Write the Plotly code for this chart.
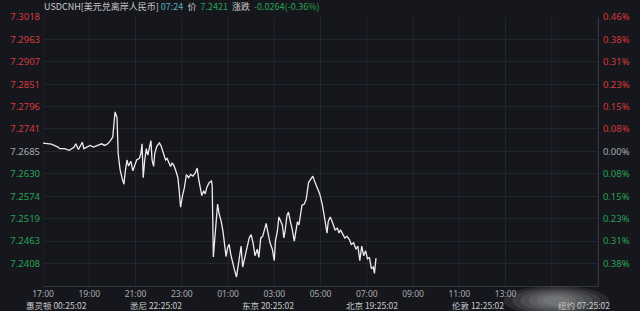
import plotly.graph_objects as go
from datetime import datetime, timedelta

# ---- data ----
times = ["17:00","17:22","17:39","17:43","17:56","18:08","18:21","18:25","18:32","18:42",
         "18:46","18:54","19:02","19:11","19:23","19:32","19:40","19:48","19:55","20:01",
         "20:07","20:12","20:15","20:20","20:26","20:30","20:34","20:38","20:42","20:48",
         "20:53","20:59","21:03","21:10","21:14","21:17","21:20","21:24","21:28","21:32",
         "21:37","21:40","21:43","21:47","21:50","21:55","22:02","22:06","22:10","22:14",
         "22:18","22:22","22:27","22:31","22:35","22:39","22:45","22:50","22:53","22:57",
         "23:02","23:07","23:12","23:18","23:23","23:29","23:35","23:40","23:44","23:48",
         "23:52","23:57","00:01","00:05","00:11","00:17","00:19","00:22","00:25","00:29",
         "00:33","00:37","00:42","00:47","00:51","00:55","00:59","01:03","01:07","01:12",
         "01:16","01:22","01:26","01:30","01:34","01:38","01:44","01:48","01:55","02:00",
         "02:05","02:10","02:16","02:20","02:25","02:30","02:35","02:39","02:43","02:49",
         "02:55","03:00","03:03","03:08","03:12","03:17","03:21","03:25","03:28","03:33",
         "03:37","03:42","03:46","03:52","03:56","04:00","04:04","04:08","04:12","04:18",
         "04:23","04:29","04:35","04:40","04:46","04:52","04:58","05:05","05:09","05:13",
         "05:17","05:20","05:25","05:29","05:33","05:38","05:44","05:48","05:52","05:58",
         "06:03","06:09","06:15","06:20","06:26","06:32","06:37","06:42","06:47","06:52",
         "06:57","07:02","07:07","07:12","07:17","07:20","07:24"]
prices = [7.2706,7.2703,7.2696,7.2692,7.2692,7.2688,7.2696,7.2704,7.2690,7.2708,
          7.2692,7.2696,7.2700,7.2696,7.2700,7.2704,7.2700,7.2704,7.2712,7.2721,
          7.2783,7.2769,7.2680,7.2640,7.2616,7.2604,7.2640,7.2664,7.2649,7.2661,
          7.2637,7.2656,7.2664,7.2668,7.2680,7.2704,7.2620,7.2664,7.2692,7.2676,
          7.2696,7.2712,7.2664,7.2648,7.2680,7.2697,7.2706,7.2700,7.2688,7.2676,
          7.2664,7.2668,7.2656,7.2648,7.2656,7.2652,7.2636,7.2620,7.2592,7.2547,
          7.2576,7.2596,7.2628,7.2620,7.2628,7.2624,7.2632,7.2644,7.2616,7.2592,
          7.2576,7.2588,7.2580,7.2596,7.2608,7.2612,7.2600,7.2424,7.2463,7.2523,
          7.2555,7.2530,7.2514,7.2487,7.2457,7.2425,7.2447,7.2455,7.2431,7.2407,
          7.2395,7.2374,7.2399,7.2431,7.2451,7.2399,7.2423,7.2447,7.2471,7.2479,
          7.2459,7.2427,7.2443,7.2423,7.2471,7.2475,7.2495,7.2507,7.2487,7.2459,
          7.2443,7.2415,7.2463,7.2487,7.2523,7.2511,7.2503,7.2471,7.2487,7.2527,
          7.2535,7.2511,7.2495,7.2463,7.2487,7.2511,7.2503,7.2535,7.2552,7.2555,
          7.2567,7.2608,7.2616,7.2624,7.2608,7.2596,7.2580,7.2552,7.2527,7.2503,
          7.2483,7.2511,7.2523,7.2515,7.2503,7.2491,7.2495,7.2483,7.2491,7.2479,
          7.2471,7.2475,7.2467,7.2455,7.2459,7.2443,7.2451,7.2415,7.2451,7.2427,
          7.2439,7.2419,7.2423,7.2395,7.2399,7.2383,7.2421]

base_price = 7.2685
price_ticks = [7.3018,7.2963,7.2907,7.2851,7.2796,7.2741,7.2685,7.2630,7.2574,7.2519,7.2463,7.2408]
price_labels = ["7.3018","7.2963","7.2907","7.2851","7.2796","7.2741","7.2685","7.2630","7.2574","7.2519","7.2463","7.2408"]
pct_labels = ["0.46%","0.38%","0.31%","0.23%","0.15%","0.08%","0.00%","0.08%","0.15%","0.23%","0.31%","0.38%"]
y_min, y_max = 7.2352, 7.3018

hour_ticks = ["17:00","19:00","21:00","23:00","01:00","03:00","05:00","07:00","09:00","11:00","13:00"]
city_labels = ["惠灵顿 00:25:02","悉尼 22:25:02","东京 20:25:02","北京 19:25:02","伦敦 12:25:02","纽约 07:25:02"]
city_pos = [0.024, 0.203, 0.405, 0.592, 0.783, 0.974]

header_name = "USDCNH[美元兑离岸人民币]"
header_time = "07:24"
header_price = "7.2421"
header_change = "-0.0264(-0.36%)"

# ---- helpers ----
day0 = datetime(2023, 8, 1)
def to_dt(hm):
    h, m = map(int, hm.split(":"))
    d = day0 if h >= 17 else day0 + timedelta(days=1)
    return d.replace(hour=h, minute=m)

xs = [to_dt(t) for t in times]
x_start = day0.replace(hour=17)
x_end = x_start + timedelta(hours=24)
grid_x = [x_start + timedelta(hours=2 * i) for i in range(13)]

RED = "#d8393f"
GREEN = "#27a356"
GREY = "#a9abb0"
BG = "#16171c"
GRID = "#24262d"

def col(v):
    if abs(v - base_price) < 1e-4:
        return GREY
    return RED if v > base_price else GREEN

left_text = [f"<span style='color:{col(v)}'>{t}</span>" for v, t in zip(price_ticks, price_labels)]
right_text = [f"<span style='color:{col(v)}'>{t}</span>" for v, t in zip(price_ticks, pct_labels)]

fig = go.Figure()
fig.add_trace(go.Scatter(x=xs, y=prices, mode="lines",
                         line=dict(color="#ececec", width=1.3), hoverinfo="skip",
                         showlegend=False))
# invisible trace for right axis
fig.add_trace(go.Scatter(x=[xs[0]], y=[prices[0]], yaxis="y2", mode="markers",
                         marker=dict(opacity=0), showlegend=False, hoverinfo="skip"))

font_tick = dict(family="Noto Sans, DejaVu Sans, sans-serif", size=9.5, color=GREY)
font_xtick = dict(family="Noto Sans, DejaVu Sans, sans-serif", size=8.5, color=GREY)

fig.update_layout(
    width=640, height=311,
    margin=dict(l=36, r=28, t=10, b=25),
    paper_bgcolor=BG, plot_bgcolor=BG,
    xaxis=dict(range=[x_start, x_end], tickvals=[to_dt(t) for t in hour_ticks], ticktext=hour_ticks,
               showgrid=False, zeroline=False, showline=True, linecolor="#33353c", linewidth=1,
               ticks="", tickfont=font_xtick, ticklabelstandoff=0),
    yaxis=dict(range=[y_min, y_max], tickvals=price_ticks, ticktext=left_text,
               showgrid=True, gridcolor=GRID, gridwidth=1, zeroline=False, showline=False,
               ticks="", tickfont=font_tick, ticklabelstandoff=2),
    yaxis2=dict(range=[y_min, y_max], overlaying="y", side="right", tickvals=price_ticks,
                ticktext=right_text, showgrid=False, zeroline=False, showline=True,
                linecolor="#33353c", ticks="", tickfont=font_tick, ticklabelstandoff=2),
)

# vertical grid
for gx in grid_x:
    fig.add_shape(type="line", xref="x", yref="paper", x0=gx, x1=gx, y0=0, y1=1,
                  line=dict(color=GRID, width=1), layer="below")
# baseline
fig.add_shape(type="line", xref="paper", yref="y", x0=0, x1=1, y0=base_price, y1=base_price,
              line=dict(color="#3d3f46", width=1), layer="below")

# header
hfont = dict(family="Noto Sans CJK SC, Noto Sans, sans-serif", size=9, color="#c9cacd")
header = (f"{header_name} <span style='color:#4fb0bd'>{header_time}</span>  价  "
          f"<span style='color:{GREEN}'>{header_price}</span>  涨跌  "
          f"<span style='color:{GREEN}'>{header_change}</span>")
fig.add_annotation(text=header, xref="paper", yref="paper", x=0.0, y=1.0, xanchor="left",
                   yanchor="bottom", yshift=3, showarrow=False, font=hfont, borderpad=0)

# city clocks
cfont = dict(family="Noto Sans CJK SC, Noto Sans, sans-serif", size=8.5, color="#c9cacd")
for t, p in zip(city_labels, city_pos):
    fig.add_annotation(text=t, xref="paper", yref="paper", x=p, y=0, yshift=-18.5,
                       xanchor="center", yanchor="middle", showarrow=False, font=cfont,
                       borderpad=0)

# blurred watermark approximation (soft concentric glow)
cx, cy = 0.925, -0.055
for i, (w, h) in enumerate([(0.095, 0.055), (0.08, 0.047), (0.065, 0.04), (0.05, 0.032),
                             (0.036, 0.025), (0.024, 0.018)]):
    fig.add_shape(type="circle", xref="paper", yref="paper", x0=cx - w, x1=cx + w,
                  y0=cy - h, y1=cy + h, fillcolor="#cfcfd4", opacity=0.11,
                  line=dict(width=0))

fig.write_html("out.html")
